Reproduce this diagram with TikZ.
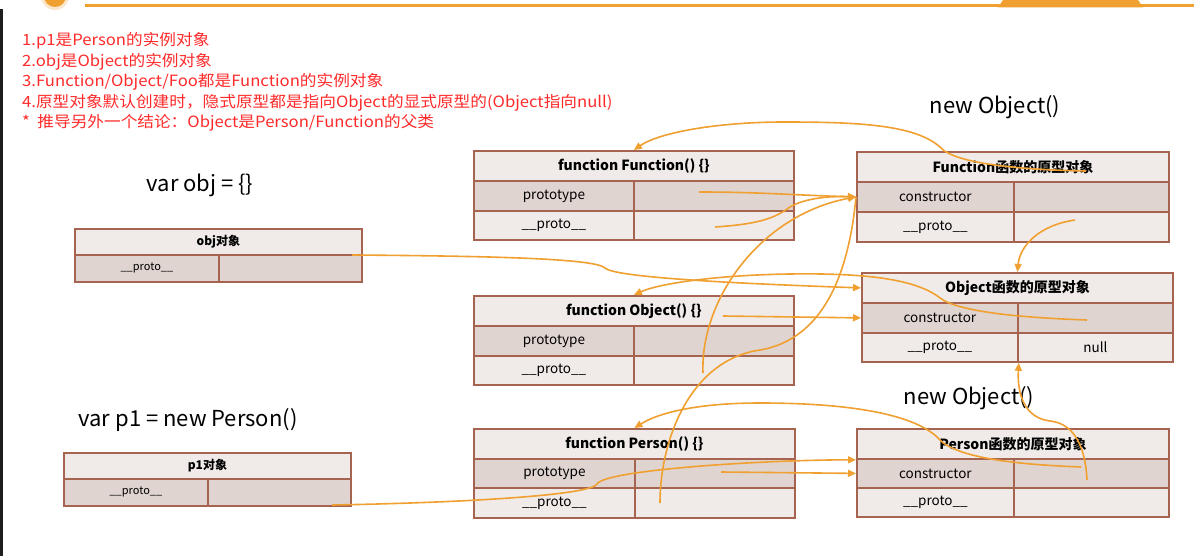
\documentclass[tikz,border=0pt]{standalone}
\usepackage{fontspec}
\setmainfont{Noto Sans CJK SC}
\usetikzlibrary{arrows.meta}
\definecolor{brd}{HTML}{A66450}
\definecolor{hdr}{HTML}{F0EBE9}
\definecolor{shd}{HTML}{E0D4D0}
\definecolor{org}{HTML}{F0A030}
\definecolor{redt}{HTML}{FF2A2A}
\definecolor{darkstrip}{HTML}{1E1E1E}
\newcommand{\wideR}[1]{\scalebox{1.075}[1]{#1}}
\begin{document}
\begin{tikzpicture}[x=1pt,y=-1pt,
  cell/.style={draw=brd, line width=1.8pt, inner sep=0pt, anchor=north west, font=\fontsize{13.5}{14}\selectfont},
  hcell/.style={cell, fill=hdr, font=\bfseries\fontsize{14}{15}\selectfont},
  scell/.style={cell, fill=shd},
  lcell/.style={cell, fill=hdr},
  smallh/.style={cell, fill=hdr, font=\bfseries\fontsize{12}{13}\selectfont},
  smalls/.style={cell, fill=shd, font=\fontsize{11}{12}\selectfont},
  redline/.style={anchor=west, text=redt, inner sep=0pt, font=\fontsize{15.5}{16}\selectfont},
  biglabel/.style={inner sep=0pt, font=\fontsize{22}{24}\selectfont},
  conn/.style={draw=org, line width=1.6pt, -{Triangle[length=8pt,width=7pt]}},
  connplain/.style={draw=org, line width=1.6pt}]
\useasboundingbox (0,0) rectangle (1194,556);
\clip (0,0) rectangle (1194,556);
\fill[white] (0,0) rectangle (1194,556);
% top / side decorations
\fill[darkstrip] (0,9) rectangle (3,556);
\fill[org] (85,4.5) rectangle (1194,7.5);
\fill[org] (1003,0) -- (1138,0) -- (1143,7.5) -- (998,7.5) -- cycle;
\fill[org!25] (55,-4) circle (14);
\fill[org] (55,-4) circle (11);

% red notes
\node[redline] (l1) at (22,41) {\wideR{1.p1是Person的实例对象}};
\node[redline] (l2) at (22,61.5) {\wideR{2.obj是Object的实例对象}};
\node[redline] (l3) at (22,82) {\wideR{3.Function/Object/Foo都是Function的实例对象}};
\node[redline] (l4) at (22,102.5) {\wideR{4.原型对象默认创建时，隐式原型都是指向Object的显式原型的(Object指向null)}};
\node[redline] (l5) at (22,123) {\wideR{*\ \ 推导另外一个结论：Object是Person/Function的父类}};

% big labels
\node[biglabel] (t1) at (200,185) {var obj = \{\}};
\node[biglabel] (t2) at (188,420) {var p1 = new Person()};
\node[biglabel] (t3) at (995,107) {new Object()};
\node[biglabel] (t4) at (969,398) {new Object()};

% function Function
\node[hcell, minimum width=320pt, minimum height=30pt] (fH) at (473,150) {function Function() \{\}};
\node[scell, minimum width=160pt, minimum height=30pt] (fPl) at (473,180) {prototype};
\node[scell, minimum width=160pt, minimum height=30pt] (fPr) at (633,180) {};
\node[lcell, minimum width=160pt, minimum height=29pt] (fQl) at (473,210) {\_\_proto\_\_};
\node[lcell, minimum width=160pt, minimum height=29pt] (fQr) at (633,210) {};

% Function prototype object
\node[hcell, minimum width=312pt, minimum height=30pt] (fpH) at (856,151) {Function函数的原型对象};
\node[scell, minimum width=157pt, minimum height=30pt] (fpCl) at (856,181) {constructor};
\node[scell, minimum width=155pt, minimum height=30pt] (fpCr) at (1013,181) {};
\node[lcell, minimum width=157pt, minimum height=30pt] (fpPl) at (856,211) {\_\_proto\_\_};
\node[lcell, minimum width=155pt, minimum height=30pt] (fpPr) at (1013,211) {};

% obj
\node[smallh, minimum width=287pt, minimum height=26pt] (obH) at (74,228) {obj对象};
\node[smalls, minimum width=144pt, minimum height=27pt] (obPl) at (74,254) {\_\_proto\_\_};
\node[smalls, minimum width=143pt, minimum height=27pt] (obPr) at (218,254) {};

% function Object
\node[hcell, minimum width=320pt, minimum height=30pt] (oH) at (473,295) {function Object() \{\}};
\node[scell, minimum width=160pt, minimum height=30pt] (oPl) at (473,325) {prototype};
\node[scell, minimum width=160pt, minimum height=30pt] (oPr) at (633,325) {};
\node[lcell, minimum width=160pt, minimum height=29pt] (oQl) at (473,355) {\_\_proto\_\_};
\node[lcell, minimum width=160pt, minimum height=29pt] (oQr) at (633,355) {};

% Object prototype object
\node[hcell, minimum width=311pt, minimum height=30pt] (opH) at (861,272) {Object函数的原型对象};
\node[scell, minimum width=156pt, minimum height=30pt] (opCl) at (861,302) {constructor};
\node[scell, minimum width=155pt, minimum height=30pt] (opCr) at (1017,302) {};
\node[lcell, minimum width=156pt, minimum height=29pt] (opPl) at (861,332) {\_\_proto\_\_};
\node[lcell, minimum width=155pt, minimum height=29pt] (opPr) at (1017,332) {null};

% function Person
\node[hcell, minimum width=321pt, minimum height=30pt] (pH) at (473,428) {function Person() \{\}};
\node[scell, minimum width=161pt, minimum height=29pt] (pPl) at (473,458) {prototype};
\node[scell, minimum width=160pt, minimum height=29pt] (pPr) at (634,458) {};
\node[lcell, minimum width=161pt, minimum height=30pt] (pQl) at (473,487) {\_\_proto\_\_};
\node[lcell, minimum width=160pt, minimum height=30pt] (pQr) at (634,487) {};

% Person prototype object
\node[hcell, minimum width=312pt, minimum height=30pt] (ppH) at (856,428) {Person函数的原型对象};
\node[scell, minimum width=157pt, minimum height=29pt] (ppCl) at (856,458) {constructor};
\node[scell, minimum width=155pt, minimum height=29pt] (ppCr) at (1013,458) {};
\node[lcell, minimum width=157pt, minimum height=29pt] (ppPl) at (856,487) {\_\_proto\_\_};
\node[lcell, minimum width=155pt, minimum height=29pt] (ppPr) at (1013,487) {};

% p1
\node[smallh, minimum width=287pt, minimum height=26pt] (p1H) at (63,452) {p1对象};
\node[smalls, minimum width=144pt, minimum height=27pt] (p1Pl) at (63,478) {\_\_proto\_\_};
\node[smalls, minimum width=143pt, minimum height=27pt] (p1Pr) at (207,478) {};

% connector start points
\coordinate (s1) at (1086,171);
\coordinate (s2) at (699,192);
\coordinate (s3) at (715,227);
\coordinate (s4) at (703,373);
\coordinate (s5) at (660,503);
\coordinate (s6) at (352,255);
\coordinate (s7) at (1087,320);
\coordinate (s8) at (723,316);
\coordinate (s9) at (1075,220);
\coordinate (s10) at (1087,480);
\coordinate (s11) at (1081,467);
\coordinate (s12) at (721,472);
\coordinate (s13) at (332,505);

% connectors
\draw[conn] (s1) .. controls (1030,170) and (955,165) .. (940,147) .. controls (915,125) and (860,122) .. (784,122) .. controls (720,122) and (660,132) .. (fH.north);
\draw[conn] (s2) .. controls (760,192) and (790,195) .. (fpCl.west);
\draw[conn] (s3) .. controls (760,224) and (775,218) .. (790,207) .. controls (805,198) and (830,196) .. (fpCl.west);
\draw[conn] (s4) .. controls (700,300) and (760,215) .. (fpCl.west);
\draw[connplain] (s5) .. controls (660,440) and (690,360) .. (760,350) .. controls (830,338) and (850,260) .. (fpCl.west);
\draw[conn] (s6) .. controls (480,256) and (595,258) .. (605,268) .. controls (615,278) and (750,284) .. (opH.west);
\draw[conn] (s7) .. controls (1030,318) and (960,313) .. (940,298) .. controls (915,278) and (860,273) .. (790,274) .. controls (720,275) and (660,283) .. (oH.north);
\draw[conn] (s8) -- (opCl.west);
\draw[conn] (s9) .. controls (1040,225) and (1020,245) .. (opH.north);
\draw[conn] (s10) .. controls (1085,440) and (1070,423) .. (1050,421) .. controls (1025,418) and (1017,395) .. (opPl.south east);
\draw[conn] (s11) .. controls (1030,465) and (960,460) .. (940,440) .. controls (915,412) and (840,403) .. (760,403) .. controls (700,403) and (660,412) .. (pH.north);
\draw[conn] (s12) -- (ppCl.west);
\draw[conn] (s13) .. controls (450,503) and (590,496) .. (597,484) .. controls (605,470) and (760,460) .. (ppH.south west);
\end{tikzpicture}
\end{document}
